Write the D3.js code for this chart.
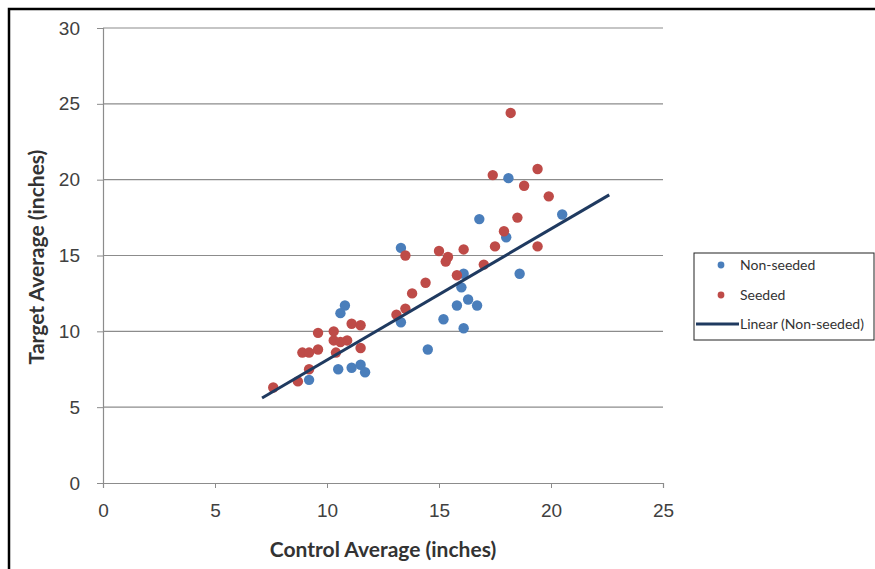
<!DOCTYPE html>
<html>
<head>
<meta charset="utf-8">
<script src="https://cdn.jsdelivr.net/npm/d3@7"></script>
<style>
  body { margin: 0; background: #fff; }
  svg { display: block; font-family: "Lato", "Open Sans", sans-serif; }
</style>
</head>
<body>
<svg id="svg" width="875" height="569"></svg>
<script>
// data
const nonSeededX = [20.5, 18.1, 18.6, 18.0, 16.8, 16.1, 13.3, 13.3, 16.0, 15.8, 16.3, 16.7, 15.2, 16.1, 14.5, 10.8, 10.6, 10.5, 11.1, 11.5, 11.7, 9.2];
const nonSeededY = [17.7, 20.1, 13.8, 16.2, 17.4, 13.8, 15.5, 10.6, 12.9, 11.7, 12.1, 11.7, 10.8, 10.2, 8.8, 11.7, 11.2, 7.5, 7.6, 7.8, 7.3, 6.8];

const seededX = [18.2, 17.4, 19.4, 18.8, 19.9, 18.5, 17.9, 17.5, 19.4, 16.1, 15.0, 15.4, 15.3, 17.0, 15.8, 13.5, 14.4, 13.8, 13.5, 13.1, 9.6, 10.3, 10.3, 11.1, 11.5, 10.9, 10.6, 11.5, 8.9, 9.2, 9.6, 9.2, 10.4, 8.7, 7.6];
const seededY = [24.4, 20.3, 20.7, 19.6, 18.9, 17.5, 16.6, 15.6, 15.6, 15.4, 15.3, 14.9, 14.6, 14.4, 13.7, 15.0, 13.2, 12.5, 11.5, 11.1, 9.9, 10.0, 9.4, 10.5, 10.4, 9.4, 9.3, 8.9, 8.6, 8.6, 8.8, 7.5, 8.6, 6.7, 6.3];

// trendline end points (Linear (Non-seeded))
const trendX = [7.1, 22.6];
const trendY = [5.6, 19.0];

const xTicks = [0, 5, 10, 15, 20, 25];
const yTicks = [0, 5, 10, 15, 20, 25, 30];

const blue = "#4a7ebb";
const red = "#be4b48";
const navy = "#1f3a60";

let svg = d3.select("#svg");
const width = 875, height = 569;
const margin = { top: 28, right: 212, bottom: 86, left: 103 };
const chartWidth = width - margin.left - margin.right;
const chartHeight = height - margin.top - margin.bottom;

// outer frame (only top and left edges visible)
svg.append("rect")
    .attr("x", 9).attr("y", 9)
    .attr("width", 900).attr("height", 600)
    .attr("fill", "none")
    .attr("stroke", "#000")
    .attr("stroke-width", 2.5);

let chart = svg.append("g")
    .attr("transform", "translate(" + margin.left + "," + margin.top + ")");

let xScale = d3.scaleLinear().domain([0, 25]).range([0, chartWidth]);
let yScale = d3.scaleLinear().domain([0, 30]).range([chartHeight, 0]);

// gridlines
chart.append("g")
    .selectAll("line")
    .data(yTicks.filter(d => d > 0))
    .enter().append("line")
    .attr("x1", 0).attr("x2", chartWidth)
    .attr("y1", d => yScale(d)).attr("y2", d => yScale(d))
    .attr("stroke", "#8c8c8c")
    .attr("stroke-width", 1.2);

// y axis
let yAxis = chart.append("g")
    .call(d3.axisLeft(yScale).tickValues(yTicks).tickSize(6).tickPadding(17));
yAxis.select(".domain").attr("stroke", "#8c8c8c").attr("stroke-width", 1.2);
yAxis.selectAll(".tick line").attr("stroke", "#8c8c8c");
yAxis.selectAll("text")
    .style("font-size", "19px")
    .attr("fill", "#404040");

// x axis
let xAxis = chart.append("g")
    .attr("transform", "translate(0," + chartHeight + ")")
    .call(d3.axisBottom(xScale).tickValues(xTicks).tickSize(5).tickPadding(16));
xAxis.select(".domain").attr("stroke", "#8c8c8c").attr("stroke-width", 1.2);
xAxis.selectAll(".tick line").attr("stroke", "#8c8c8c");
xAxis.selectAll("text")
    .style("font-size", "19px")
    .attr("fill", "#404040");

// points
function drawPoints(xs, ys, colour) {
    chart.append("g")
        .selectAll("circle")
        .data(xs.map((x, i) => ({ x: x, y: ys[i] })))
        .enter().append("circle")
        .attr("cx", d => xScale(d.x))
        .attr("cy", d => yScale(d.y))
        .attr("r", 5.2)
        .attr("fill", colour);
}
drawPoints(nonSeededX, nonSeededY, blue);
drawPoints(seededX, seededY, red);

// trendline
chart.append("line")
    .attr("x1", xScale(trendX[0])).attr("y1", yScale(trendY[0]))
    .attr("x2", xScale(trendX[1])).attr("y2", yScale(trendY[1]))
    .attr("stroke", navy)
    .attr("stroke-width", 3);

// axis titles
svg.append("text")
    .attr("x", 383).attr("y", 557)
    .attr("text-anchor", "middle")
    .style("font-size", "21px")
    .style("font-weight", "bold")
    .attr("fill", "#333")
    .text("Control Average (inches)");

svg.append("text")
    .attr("transform", "translate(44,257) rotate(-90)")
    .attr("text-anchor", "middle")
    .style("font-size", "21px")
    .style("font-weight", "bold")
    .attr("fill", "#333")
    .text("Target Average (inches)");

// legend
let legend = svg.append("g");
legend.append("rect")
    .attr("x", 694).attr("y", 253)
    .attr("width", 180).attr("height", 87)
    .attr("fill", "#fff")
    .attr("stroke", "#222")
    .attr("stroke-width", 1);

const legendItems = [
    { label: "Non-seeded", type: "dot", colour: blue, y: 265 },
    { label: "Seeded", type: "dot", colour: red, y: 295 },
    { label: "Linear (Non-seeded)", type: "line", colour: navy, y: 324 }
];
legendItems.forEach(item => {
    if (item.type === "dot") {
        legend.append("circle")
            .attr("cx", 721).attr("cy", item.y)
            .attr("r", 3.4)
            .attr("fill", item.colour);
    } else {
        legend.append("line")
            .attr("x1", 696).attr("x2", 739)
            .attr("y1", item.y).attr("y2", item.y)
            .attr("stroke", item.colour)
            .attr("stroke-width", 3);
    }
    legend.append("text")
        .attr("x", 740).attr("y", item.y + 5)
        .style("font-size", "14px")
        .attr("fill", "#333")
        .text(item.label);
});
</script>
</body>
</html>
